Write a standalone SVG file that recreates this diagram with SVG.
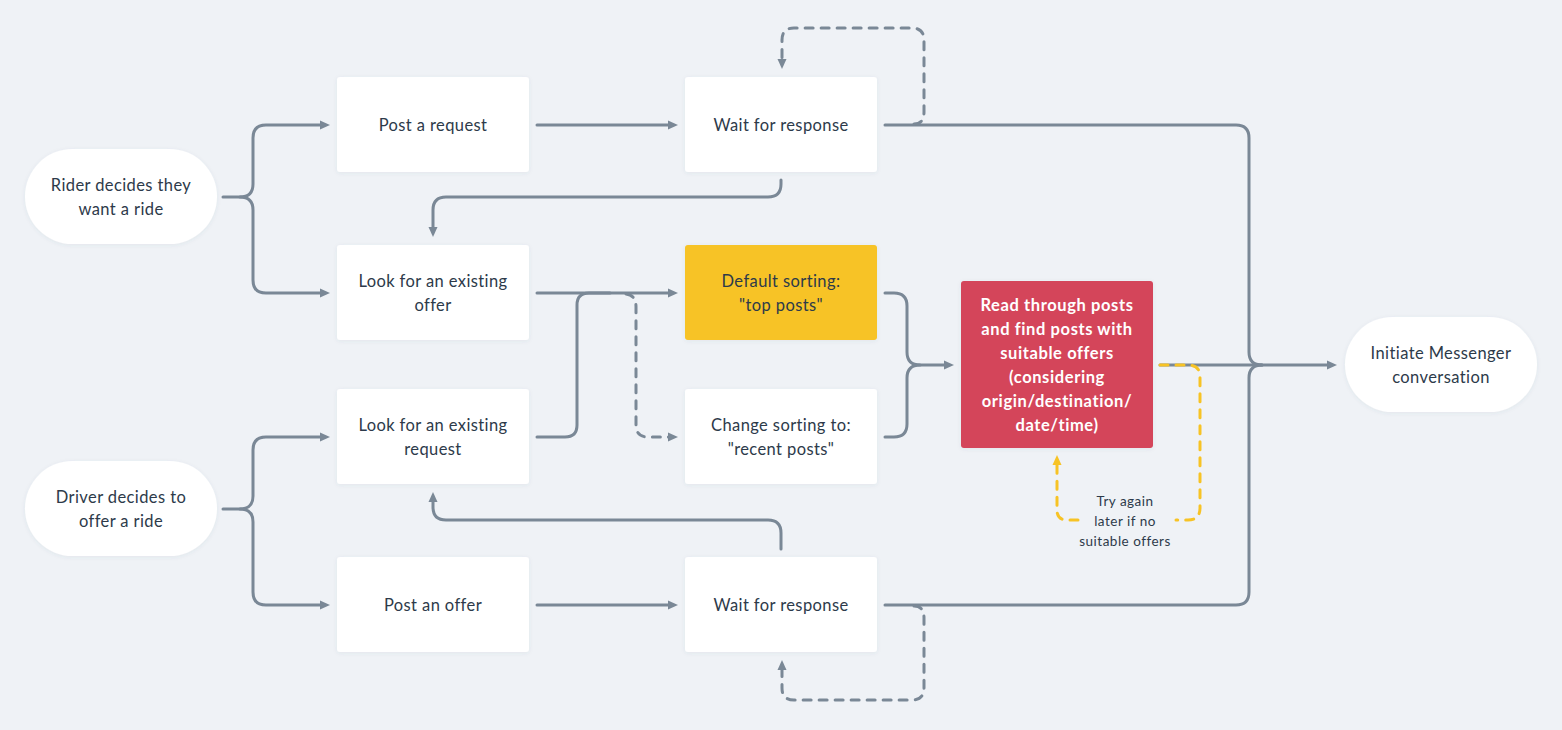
<svg xmlns="http://www.w3.org/2000/svg" width="1562" height="730" viewBox="0 0 1562 730">
<style>
.n{fill:#ffffff;filter:url(#sh)}
.t{font-family:Lato,"Liberation Sans",sans-serif;font-size:16.5px;letter-spacing:0.4px;fill:#2d3a4a;text-anchor:middle}
.tw{font-family:Lato,"Liberation Sans",sans-serif;font-size:16.5px;letter-spacing:0.6px;font-weight:bold;fill:#ffffff;text-anchor:middle}
.ts{font-family:Lato,"Liberation Sans",sans-serif;font-size:13.5px;letter-spacing:0.5px;fill:#2d3a4a;text-anchor:middle}
.c{fill:none;stroke:#7a8896;stroke-width:3;stroke-linecap:round;stroke-linejoin:round}
.a{marker-end:url(#ar)}
.d{stroke-dasharray:8 8}
.y{fill:none;stroke:#f7c325;stroke-width:3;stroke-linecap:round;stroke-dasharray:8 8}
</style>
<defs>
<filter id="sh" x="-10%" y="-10%" width="120%" height="130%"><feDropShadow dx="0" dy="1" stdDeviation="2" flood-color="#4a5a6a" flood-opacity="0.08"/></filter>
<marker id="ar" viewBox="0 0 10 10" refX="3" refY="5" markerWidth="10" markerHeight="10" markerUnits="userSpaceOnUse" orient="auto"><path d="M0,0.5 L10,5 L0,9.5 Z" fill="#7a8896"/></marker>
<marker id="ay" viewBox="0 0 10 10" refX="3" refY="5" markerWidth="10" markerHeight="10" markerUnits="userSpaceOnUse" orient="auto"><path d="M0,0.5 L10,5 L0,9.5 Z" fill="#f7c325"/></marker>
</defs>
<rect width="1562" height="730" fill="#eff2f6"/>
<g id="connectors">
<path class="c a" d="M223 197 H240 Q253 197 253 184 V138 Q253 125 266 125 H323"/>
<path class="c a" d="M240 197 Q253 197 253 210 V280 Q253 293 266 293 H323"/>
<path class="c a" d="M223 509 H240 Q253 509 253 496 V450 Q253 437 266 437 H323"/>
<path class="c a" d="M240 509 Q253 509 253 522 V592 Q253 605 266 605 H323"/>
<path class="c a" d="M537 125 H671"/>
<path class="c a" d="M537 293 H671"/>
<path class="c a" d="M537 605 H671"/>
<path class="c" d="M537 437 H565 Q577 437 577 425 V305 Q577 293 589 293 H610"/>
<path class="c d a" d="M626 294 Q636 295 636 307 V425 Q636 437 648 437 H671"/>
<path class="c" d="M885 125 H1236 Q1249 125 1249 138 V352 Q1249 365 1262 365"/>
<path class="c" d="M885 605 H1236 Q1249 605 1249 592 V378 Q1249 365 1262 365"/>
<path class="c a" d="M1160 365 H1330"/>
<path class="c a" d="M885 293 H894 Q907 293 907 306 V352 Q907 365 920 365 H947"/>
<path class="c" d="M885 437 H894 Q907 437 907 424 V378 Q907 365 920 365"/>
<path class="c a" d="M781 180 V184 Q781 197 768 197 H446 Q433 197 433 210 V230"/>
<path class="c a" d="M781 549 V533 Q781 520 768 520 H446 Q433 520 433 507 V499"/>
<path class="c d a" d="M914 124 Q924 124 924 112 V40 Q924 28 912 28 H794 Q782 28 782 40 V62"/>
<path class="c d a" d="M914 606 Q924 606 924 618 V688 Q924 700 912 700 H794 Q782 700 782 688 V667"/>
<path class="y" d="M1160 365 H1188 Q1200 365 1200 377 V508 Q1200 520 1188 520 H1176"/>
<path class="y" style="marker-end:url(#ay)" d="M1078 520 H1067 Q1057 520 1057 510 V462"/>
<text class="ts" x="1125" y="506">Try again</text>
<text class="ts" x="1125" y="526">later if no</text>
<text class="ts" x="1125" y="546">suitable offers</text>
</g>
<g id="rider"><rect class="n" x="25" y="149" width="192" height="95" rx="47.5"/><text class="t" x="121" y="191">Rider decides they</text><text class="t" x="121" y="215">want a ride</text></g>
<g id="driver"><rect class="n" x="25" y="461" width="192" height="95" rx="47.5"/><text class="t" x="121" y="503">Driver decides to</text><text class="t" x="121" y="527">offer a ride</text></g>
<g id="post-request"><rect class="n" x="337" y="77" width="192" height="95" rx="3"/><text class="t" x="433" y="131">Post a request</text></g>
<g id="wait-top"><rect class="n" x="685" y="77" width="192" height="95" rx="3"/><text class="t" x="781" y="131">Wait for response</text></g>
<g id="look-offer"><rect class="n" x="337" y="245" width="192" height="95" rx="3"/><text class="t" x="433" y="287">Look for an existing</text><text class="t" x="433" y="311">offer</text></g>
<g id="default-sorting"><rect x="685" y="245" width="192" height="95" rx="3" fill="#f7c325" filter="url(#sh)"/><text class="t" x="781" y="287">Default sorting:</text><text class="t" x="781" y="311">"top posts"</text></g>
<g id="look-request"><rect class="n" x="337" y="389" width="192" height="95" rx="3"/><text class="t" x="433" y="431">Look for an existing</text><text class="t" x="433" y="455">request</text></g>
<g id="change-sorting"><rect class="n" x="685" y="389" width="192" height="95" rx="3"/><text class="t" x="781" y="431">Change sorting to:</text><text class="t" x="781" y="455">"recent posts"</text></g>
<g id="post-offer"><rect class="n" x="337" y="557" width="192" height="95" rx="3"/><text class="t" x="433" y="611">Post an offer</text></g>
<g id="wait-bottom"><rect class="n" x="685" y="557" width="192" height="95" rx="3"/><text class="t" x="781" y="611">Wait for response</text></g>
<g id="read-posts"><rect x="961" y="281" width="192" height="167" rx="3" fill="#d4445a" filter="url(#sh)"/>
<text class="tw" x="1057" y="311">Read through posts</text>
<text class="tw" x="1057" y="335">and find posts with</text>
<text class="tw" x="1057" y="359">suitable offers</text>
<text class="tw" x="1057" y="383">(considering</text>
<text class="tw" x="1057" y="407">origin/destination/</text>
<text class="tw" x="1057" y="431">date/time)</text></g>
<g id="messenger"><rect class="n" x="1345" y="317" width="192" height="95" rx="47.5"/><text class="t" x="1441" y="359">Initiate Messenger</text><text class="t" x="1441" y="383">conversation</text></g>
</svg>
